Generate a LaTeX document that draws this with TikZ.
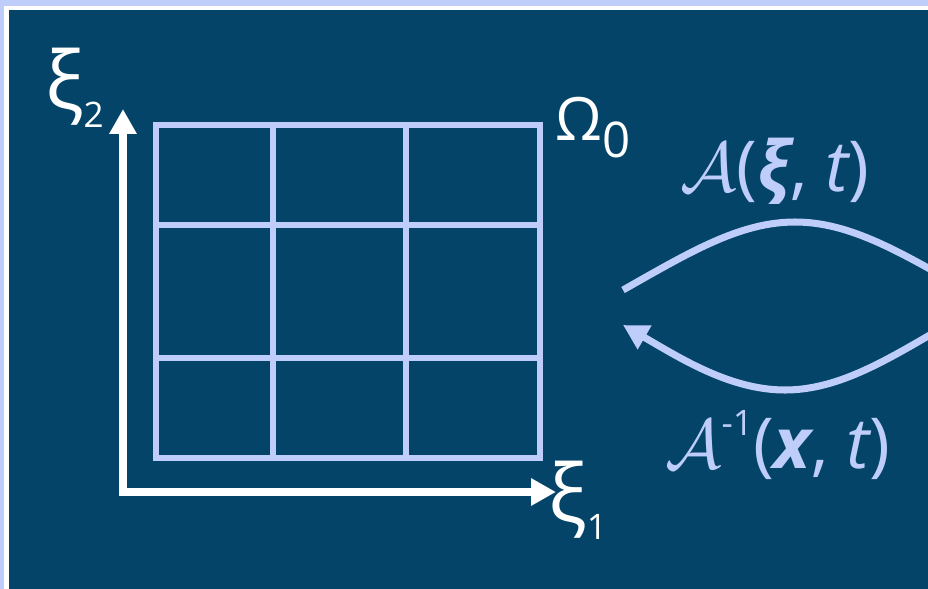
\RequirePackage{fix-cm}
\documentclass[tikz,border=0pt]{standalone}
\usepackage{fontspec}
\setmainfont{Open Sans}
\usepackage{tikz}
\usetikzlibrary{arrows.meta}
\definecolor{slidebg}{RGB}{3,68,104}
\definecolor{lavender}{RGB}{190,205,250}
\newcommand{\lowsub}[2][20]{\raisebox{-10pt}{\fontsize{#1}{#1}\selectfont #2}}

\begin{document}
\begin{tikzpicture}[x=0.02cm,y=-0.02cm,>={Triangle[length=0.5cm,width=0.52cm]},
    every node/.style={inner sep=0pt,text=white,font=\fontsize{34}{40}\selectfont},
    greek/.style={anchor=base west,font=\fontsize{46}{50}\selectfont},
    maplabel/.style={text=lavender,font=\fontsize{40}{46}\selectfont},
    mesh/.style={lavender,line width=3.4pt},
    axis/.style={white,line width=4.6pt},
    map/.style={lavender,line width=4pt}]
    \useasboundingbox (0,0) rectangle (928,588);
    \fill[lavender] (0,0) rectangle (940,600);
    \fill[white] (4,6) rectangle (940,600);
    \fill[slidebg] (9,10) rectangle (940,600);
    \clip (0,0) rectangle (928,588);

    \draw[mesh] (156,125) rectangle (540,458);
    \draw[mesh] (273,125) -- (273,458);
    \draw[mesh] (406,125) -- (406,458);
    \draw[mesh] (156,225) -- (540,225);
    \draw[mesh] (156,358) -- (540,358);

    \coordinate (origin) at (123,492);
    \coordinate (xiup) at (123,109);
    \coordinate (xiright) at (556,492);
    \draw[axis,<->] (xiup) -- (origin) -- (xiright);

    \node[greek] (xitwo) at (45,110) {ξ\lowsub{2}};
    \node[greek] (xione) at (548,522) {ξ\lowsub{1}};
    \node[anchor=base west] (omega) at (555,140) {Ω\lowsub[28]{0}};

    \coordinate (fwdstart) at (623,290);
    \coordinate (fwdtop) at (795,222);
    \coordinate (fwdend) at (967,290);
    \draw[map] (fwdstart) .. controls (690,252) and (740,222) .. (fwdtop)
        .. controls (850,222) and (900,252) .. (fwdend);

    \coordinate (backstart) at (947,325);
    \coordinate (backlow) at (785,390);
    \coordinate (backend) at (623,325);
    \draw[map,->] (backstart) .. controls (890,358) and (840,390) .. (backlow)
        .. controls (730,390) and (680,358) .. (backend);

    \node[maplabel] (fwdlabel) at (775,171) {$\mathcal{A}$({\bfseries\itshape ξ}, {\itshape t})};
    \node[maplabel] (backlabel) at (778,445) {$\mathcal{A}$\raisebox{0.9ex}{\fontsize{20}{20}\selectfont -1}({\bfseries\itshape x}, {\itshape t})};
\end{tikzpicture}
\end{document}
